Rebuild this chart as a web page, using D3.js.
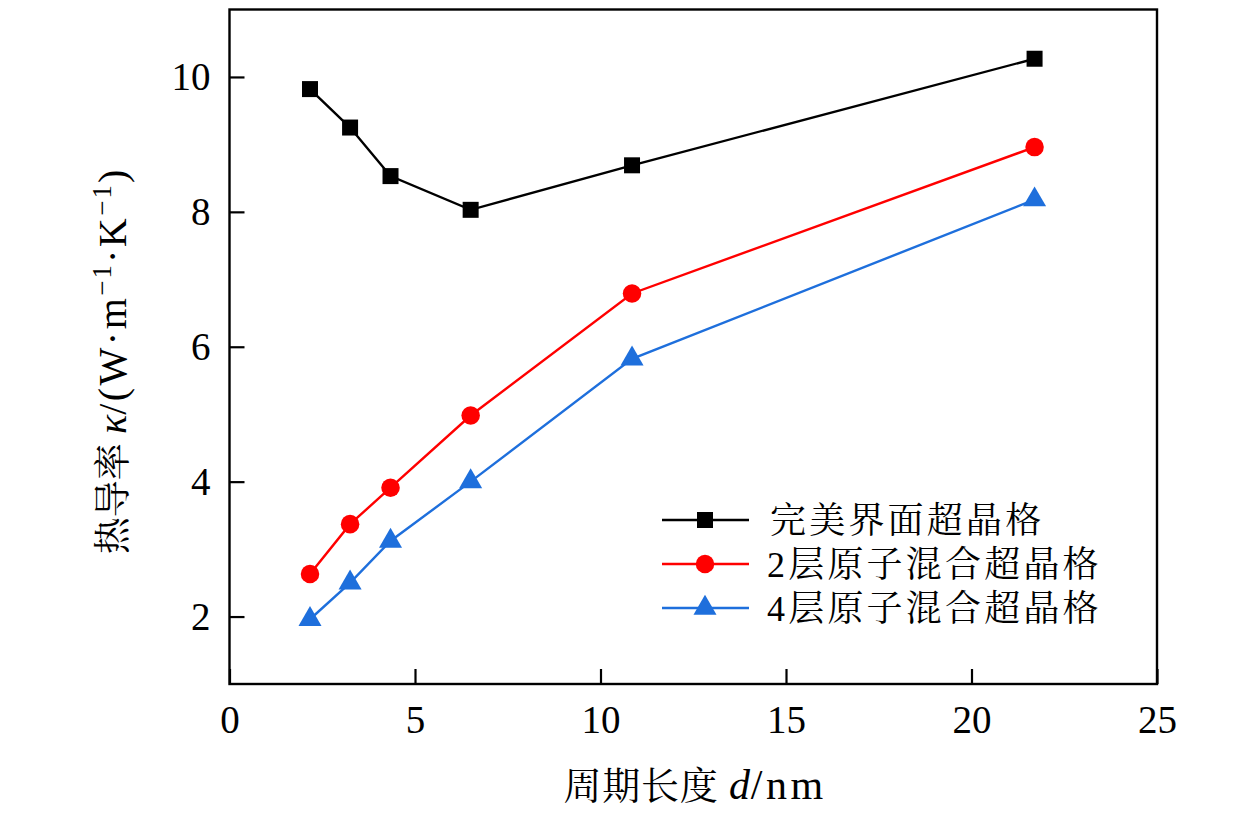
<!DOCTYPE html>
<html><head><meta charset="utf-8">
<script src="https://cdn.jsdelivr.net/npm/d3@7/dist/d3.min.js"></script>
<style>body{margin:0;background:#fff}svg{display:block}</style>
</head><body>
<svg id="c" width="1260" height="819"></svg>
<script>
const periods = [2.17, 3.25, 4.34, 6.5, 10.85, 21.7];
const perfect = [9.82, 9.25, 8.53, 8.03, 8.69, 10.27];
const mixed2 = [2.63, 3.37, 3.91, 4.98, 6.79, 8.96];
const mixed4 = [1.96, 2.50, 3.12, 4.00, 5.82, 8.18];
const xTicks = [0, 5, 10, 15, 20, 25];
const yTicks = [2, 4, 6, 8, 10];
const seriesNames = ["完美界面超晶格", "2层原子混合超晶格", "4层原子混合超晶格"];
const seriesColors = ["#000000", "#ff0000", "#1e6fdc"];
const seriesSymbols = [d3.symbolSquare, d3.symbolCircle, d3.symbolTriangle];
const seriesSizes = [256, 270, 230];

const svg = d3.select("#c");
const L = 229.5, R = 1157, T = 9.5, B = 684;
const x = d3.scaleLinear().domain([0, 25]).range([L, R]);
const y = d3.scaleLinear().domain([1, 11]).range([B, T]);
const serif = "'Liberation Serif','Times New Roman',serif";
const mixedFont = "'Liberation Serif','Noto Serif CJK SC','Noto Sans CJK SC',serif";

// axes with inward ticks
const xa = svg.append("g").attr("transform", `translate(0,${B})`)
  .call(d3.axisBottom(x).tickValues(xTicks).tickSize(-15).tickPadding(21).tickFormat(d3.format("d")));
const ya = svg.append("g").attr("transform", `translate(${L},0)`)
  .call(d3.axisLeft(y).tickValues(yTicks).tickSize(-15).tickPadding(19).tickFormat(d3.format("d")));
[xa, ya].forEach(a => {
  a.select(".domain").remove();
  a.selectAll(".tick line").attr("stroke", "#000").attr("stroke-width", 2.2);
  a.selectAll(".tick text").attr("font-family", serif).attr("font-size", 39).attr("fill", "#000");
});
xa.selectAll(".tick text").attr("dy", "0.71em");
// frame
svg.append("rect").attr("x", L).attr("y", T).attr("width", R - L).attr("height", B - T)
  .attr("fill", "none").attr("stroke", "#000").attr("stroke-width", 2.4);

const series = [perfect, mixed2, mixed4];
const line = d3.line().x((d, i) => x(periods[i])).y(d => y(d));
series.forEach((s, k) => {
  svg.append("path").datum(s).attr("d", line).attr("fill", "none")
    .attr("stroke", seriesColors[k]).attr("stroke-width", 2.4);
  svg.selectAll(null).data(s).enter().append("path")
    .attr("d", d3.symbol().type(seriesSymbols[k]).size(seriesSizes[k]))
    .attr("transform", (d, i) => `translate(${x(periods[i])},${y(d)})`)
    .attr("fill", seriesColors[k]);
});

// legend
const legY = [520, 564, 608];
seriesNames.forEach((n, k) => {
  const g = svg.append("g").attr("transform", `translate(0,${legY[k]})`);
  g.append("line").attr("x1", 662).attr("x2", 749).attr("y1", 0).attr("y2", 0)
    .attr("stroke", seriesColors[k]).attr("stroke-width", 2.4);
  g.append("path").attr("d", d3.symbol().type(seriesSymbols[k]).size(seriesSizes[k]))
    .attr("transform", "translate(705,0)").attr("fill", seriesColors[k]);
  g.append("text").attr("x", k === 0 ? 770 : 767).attr("y", 0).attr("dy", "0.36em")
    .attr("font-family", mixedFont).attr("font-size", 36).attr("letter-spacing", 3.2)
    .attr("fill", "#000").text(n);
});

// x title
const xt = svg.append("text").attr("x", 695).attr("y", 799).attr("text-anchor", "middle")
  .attr("font-family", mixedFont).attr("font-size", 38).attr("letter-spacing", 0.8).attr("fill", "#000");
xt.append("tspan").text("周期长度 ");
xt.append("tspan").attr("font-style", "italic").attr("font-size", 42).text("d");
xt.append("tspan").attr("font-size", 42).attr("letter-spacing", 3.5).text("/nm");

// y title
const yt = svg.append("text").attr("transform", "translate(126,362) rotate(-90)")
  .attr("text-anchor", "middle").attr("font-family", mixedFont).attr("font-size", 37).attr("fill", "#000");
yt.append("tspan").text("热导率 ");
yt.append("tspan").attr("font-style", "italic").attr("font-size", 40).text("κ");
yt.append("tspan").attr("font-size", 40).attr("letter-spacing", 2.5).text("/(W·m");
yt.append("tspan").attr("font-size", 27).attr("dy", -15).attr("letter-spacing", 2).text("−1");
yt.append("tspan").attr("font-size", 40).attr("dy", 15).attr("letter-spacing", 2.5).text("·K");
yt.append("tspan").attr("font-size", 27).attr("dy", -15).attr("letter-spacing", 2).text("−1");
yt.append("tspan").attr("font-size", 40).attr("dy", 15).text(")");
</script>
</body></html>
